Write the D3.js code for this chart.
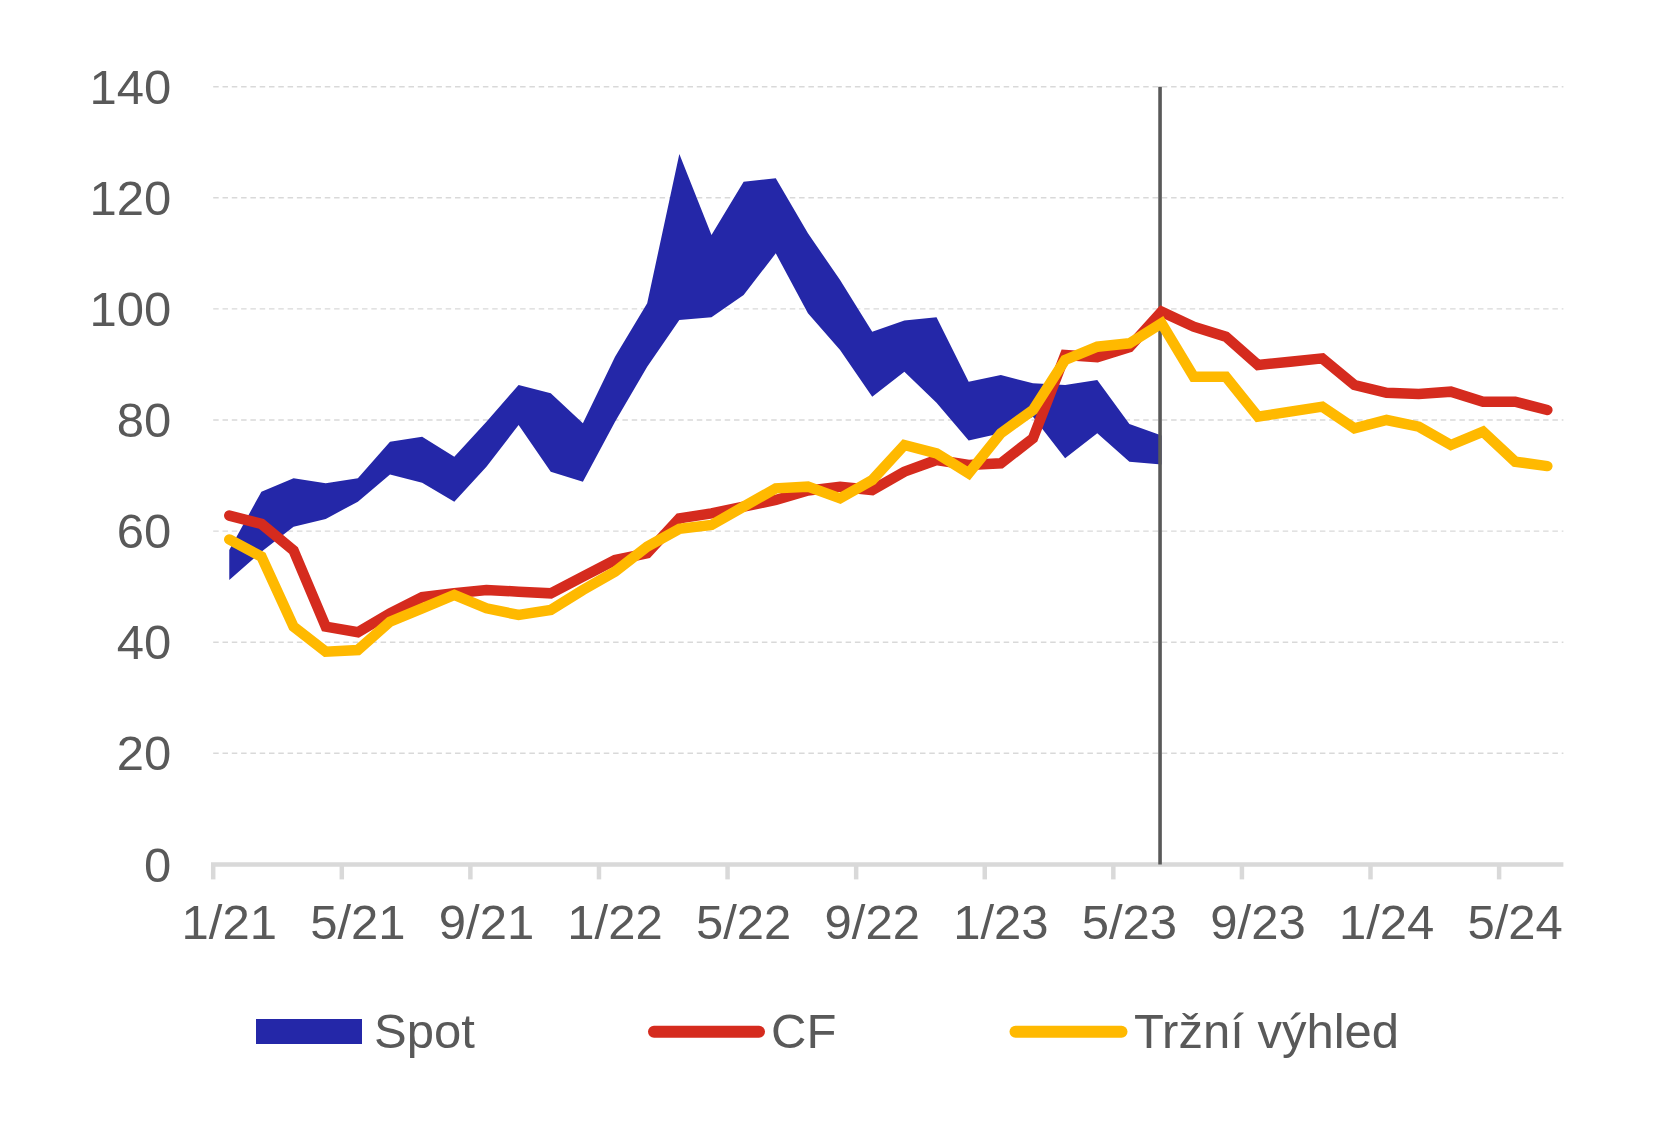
<!DOCTYPE html>
<html>
<head>
<meta charset="utf-8">
<script src="https://cdn.jsdelivr.net/npm/d3@7"></script>
<style>
  html, body { margin: 0; padding: 0; background: #ffffff; }
  svg { display: block; font-family: "Liberation Sans", Arial, sans-serif; }
</style>
</head>
<body>
<svg id="chart" width="1671" height="1125"></svg>
<script>
// ---- data ----
const months = [
  "1/21","2/21","3/21","4/21","5/21","6/21","7/21","8/21","9/21","10/21","11/21","12/21",
  "1/22","2/22","3/22","4/22","5/22","6/22","7/22","8/22","9/22","10/22","11/22","12/22",
  "1/23","2/23","3/23","4/23","5/23","6/23","7/23","8/23","9/23","10/23","11/23","12/23",
  "1/24","2/24","3/24","4/24","5/24","6/24"
];
const tickLabels = ["1/21","5/21","9/21","1/22","5/22","9/22","1/23","5/23","9/23","1/24","5/24"];
const yTicks = [0, 20, 40, 60, 80, 100, 120, 140];

// Spot band (1/21 – 6/23): lower and upper bound
const spotLow = [51.2,56.3,60.8,62.2,65.3,70.2,68.7,65.3,71.6,79.1,70.7,68.9,
                 79.7,89.6,98.0,98.5,102.5,110.0,99.2,92.6,84.2,88.7,83.1,76.3,
                 77.6,80.6,73.1,77.6,72.5,72.0];
const spotHigh = [56.6,67.1,69.5,68.6,69.5,76.1,77.0,73.4,79.7,86.3,84.8,79.4,
                  91.4,101.0,127.9,113.3,122.9,123.5,113.6,105.2,95.9,97.9,98.5,86.9,
                  88.1,86.6,86.3,87.2,79.3,77.2];
// Consensus Forecasts
const cf = [62.8,61.3,56.5,42.8,41.8,45.2,48.1,48.8,49.4,49.1,48.8,51.8,
            54.8,56.0,62.3,63.2,64.4,65.6,67.3,68.0,67.4,70.7,72.8,71.9,
            72.2,76.7,91.7,91.3,93.1,99.5,96.8,95.0,89.9,90.5,91.1,86.3,
            84.9,84.7,85.1,83.3,83.3,81.8];
// Tržní výhled (market outlook)
const market = [58.5,55.4,42.8,38.3,38.6,43.7,46.1,48.5,46.1,44.9,45.8,49.4,
                52.7,57.2,60.4,61.1,64.4,67.7,68.0,65.9,69.2,75.5,74.0,70.4,
                77.6,81.8,90.8,93.2,93.8,97.4,87.8,87.8,80.6,81.5,82.4,78.5,
                80.0,78.8,75.5,77.9,72.5,71.7];
const splitMonth = "6/23";
const legendNames = ["Spot", "CF", "Tržní výhled"];

// ---- styles ----
const C_SPOT = "#2427A8", C_CF = "#D52B1E", C_MKT = "#FFB900";
const C_TEXT = "#595959", C_GRID = "#D9D9D9";
const FONT = 49;

const svg = d3.select("#chart");
const x = d3.scaleBand().domain(months).range([213.2, 1563.4]).padding(0);
const y = d3.scaleLinear().domain([0, 140]).range([864.4, 86.7]);
const cx = m => x(m) + x.bandwidth() / 2;

// gridlines
svg.append("g").selectAll("line")
  .data(yTicks.filter(v => v > 0))
  .join("line")
  .attr("x1", x.range()[0]).attr("x2", x.range()[1])
  .attr("y1", d => y(d)).attr("y2", d => y(d))
  .attr("stroke", C_GRID).attr("stroke-width", 1.4)
  .attr("stroke-dasharray", "5.5,3.8");

// y axis labels
const yAxis = d3.axisLeft(y).tickValues(yTicks).tickSize(0).tickPadding(42);
const gy = svg.append("g").attr("transform", `translate(${x.range()[0]},0)`).call(yAxis);
gy.select(".domain").remove();
gy.selectAll("text")
  .attr("fill", C_TEXT).attr("font-size", FONT)
  .attr("font-family", "'Liberation Sans', Arial, sans-serif")
  .attr("dy", "0.34em");

// spot area
const spotData = spotLow.map((lo, i) => ({ m: months[i], lo, hi: spotHigh[i] }));
svg.append("path")
  .datum(spotData)
  .attr("fill", C_SPOT)
  .attr("d", d3.area().x(d => cx(d.m)).y0(d => y(d.lo)).y1(d => y(d.hi)));

// x axis line
svg.append("line")
  .attr("x1", x.range()[0] - 2.2).attr("x2", x.range()[1])
  .attr("y1", y(0)).attr("y2", y(0))
  .attr("stroke", C_GRID).attr("stroke-width", 4.5);

// x ticks (at category boundaries) and labels (at category centers)
const gx = svg.append("g");
gx.selectAll("line.tk").data(tickLabels).join("line")
  .attr("class", "tk")
  .attr("x1", d => x(d)).attr("x2", d => x(d))
  .attr("y1", y(0)).attr("y2", y(0) + 15)
  .attr("stroke", C_GRID).attr("stroke-width", 4.5);
gx.selectAll("text").data(tickLabels).join("text")
  .attr("x", d => cx(d)).attr("y", 938.5)
  .attr("text-anchor", "middle")
  .attr("fill", C_TEXT).attr("font-size", FONT)
  .text(d => d);

// vertical split line
svg.append("line")
  .attr("x1", cx(splitMonth) - 1.5).attr("x2", cx(splitMonth) - 1.5)
  .attr("y1", y(140)).attr("y2", y(0))
  .attr("stroke", C_TEXT).attr("stroke-width", 3.6);

// lines
const line = d3.line().x((d, i) => cx(months[i])).y(d => y(d));
svg.append("path").datum(cf)
  .attr("fill", "none").attr("stroke", C_CF).attr("stroke-width", 10.5)
  .attr("stroke-linecap", "round").attr("stroke-linejoin", "miter")
  .attr("d", line);
svg.append("path").datum(market)
  .attr("fill", "none").attr("stroke", C_MKT).attr("stroke-width", 10.5)
  .attr("stroke-linecap", "round").attr("stroke-linejoin", "miter")
  .attr("d", line);

// legend
const lg = svg.append("g");
lg.append("rect").attr("x", 256).attr("y", 1019).attr("width", 106).attr("height", 25)
  .attr("fill", C_SPOT);
lg.append("text").attr("x", 374).attr("y", 1048.3).attr("fill", C_TEXT)
  .attr("font-size", FONT).text(legendNames[0]);
lg.append("line").attr("x1", 654).attr("x2", 759).attr("y1", 1031.7).attr("y2", 1031.7)
  .attr("stroke", C_CF).attr("stroke-width", 12).attr("stroke-linecap", "round");
lg.append("text").attr("x", 771).attr("y", 1048.3).attr("fill", C_TEXT)
  .attr("font-size", FONT).text(legendNames[1]);
lg.append("line").attr("x1", 1015.5).attr("x2", 1121.5).attr("y1", 1031.7).attr("y2", 1031.7)
  .attr("stroke", C_MKT).attr("stroke-width", 12).attr("stroke-linecap", "round");
lg.append("text").attr("x", 1134).attr("y", 1048.3).attr("fill", C_TEXT)
  .attr("font-size", FONT).text(legendNames[2]);
</script>
</body>
</html>
